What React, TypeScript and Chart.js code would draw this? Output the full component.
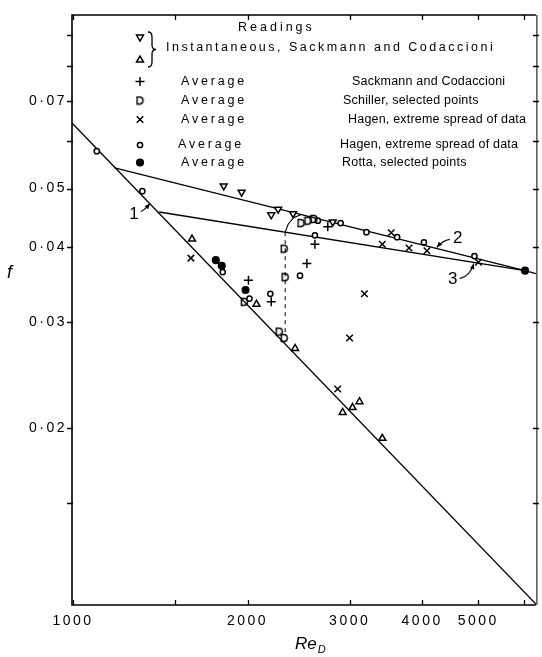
import React, { useEffect, useRef } from 'react';
import { Chart, registerables } from 'chart.js';
import { drawPoint } from 'chart.js/helpers';

Chart.register(...registerables);

// ---- axis ranges & ticks ----
const X_MIN = 996;
const X_MAX = 6284;
const Y_MIN = 0.01014;
const Y_MAX = 0.0972;

const xTickValues = [1000, 1500, 2000, 3000, 4000, 5000, 6000];
const xTickLabels = ['1000', '', '2000', '3000', '4000', '5000', ''];
const yTickValues = [0.015, 0.02, 0.03, 0.04, 0.05, 0.06, 0.07, 0.08, 0.09];
const yTickLabels = ['', '0·02', '0·03', '0·04', '0·05', '', '0·07', '', ''];

// ---- curves ----
const laminarRe = [996, 6284];
const laminarF = [0.06426, 0.01018];
const line2Re = [1180, 6019, 6284];
const line2F = [0.0541, 0.0365, 0.0361];
const line3Re = [1408, 6019];
const line3F = [0.0457, 0.0365];
const jumpRe = [2322, 2322];
const jumpF = [0.0423, 0.0287];
const bendRe = [2322, 2350, 2400, 2470];
const bendF = [0.0423, 0.0436, 0.0447, 0.0452];

// ---- readings ----
const downTriRe = [1819, 1953, 2197, 2258, 2396, 2805];
const downTriF = [0.0505, 0.0493, 0.0452, 0.0462, 0.0454, 0.044];
const upTriRe = [1604, 2072, 2415, 2917, 3034, 3119, 3415];
const upTriF = [0.0412, 0.0321, 0.0271, 0.0212, 0.0216, 0.0221, 0.0192];
const sackRe = [2007, 2197, 2531, 2613, 2750];
const sackF = [0.0352, 0.0324, 0.0375, 0.0404, 0.0432];
const schillerRe = [1975, 2268, 2313, 2313, 2322, 2473, 2542, 2603];
const schillerF = [0.0324, 0.0289, 0.0282, 0.0397, 0.0356, 0.0438, 0.0442, 0.0445];
const hagenXRe = [1597, 2860, 2999, 3181, 3415, 3538, 3797, 4077, 5002];
const hagenXF = [0.0383, 0.0232, 0.0282, 0.0334, 0.0404, 0.0422, 0.0398, 0.0394, 0.0377];
const hagenORe = [1099, 1317, 1812, 2015, 2189, 2463, 2613, 2644, 2894, 3206, 3622, 4029, 4923];
const hagenOF = [0.0577, 0.0495, 0.0363, 0.0328, 0.0334, 0.0358, 0.0418, 0.0442, 0.0438, 0.0423, 0.0415, 0.0407, 0.0386];
const rottaRe = [1763, 1805, 1984, 6019];
const rottaF = [0.038, 0.0372, 0.0339, 0.0365];

// ---- annotations (anchor on curves) ----
const noteLabels = ['1', '2', '3'];
const noteRe = [1357, 4240, 4910];
const noteF = [0.0472, 0.0399, 0.0375];

const FONT = 'Liberation Sans';

function makeDImage() {
  const c = document.createElement('canvas');
  c.width = 9;
  c.height = 10;
  const g = c.getContext('2d')!;
  g.strokeStyle = '#000';
  g.lineWidth = 1.5;
  g.beginPath();
  g.moveTo(1.5, 1.5);
  g.lineTo(4, 1.5);
  g.quadraticCurveTo(7.5, 1.5, 7.5, 5);
  g.quadraticCurveTo(7.5, 8.5, 4, 8.5);
  g.lineTo(1.5, 8.5);
  g.closePath();
  g.stroke();
  return c;
}

const pts = (xs: number[], ys: number[]) => xs.map((x, i) => ({ x, y: ys[i] }));

export default function App() {
  const ref = useRef<HTMLCanvasElement | null>(null);

  useEffect(() => {
    const canvas = ref.current;
    if (!canvas) return;
    const dImg = makeDImage();

    const styles: any = {
      down: { pointStyle: 'triangle', rotation: 180, radius: 4, fill: '#fff' },
      up: { pointStyle: 'triangle', rotation: 0, radius: 4, fill: '#fff' },
      plus: { pointStyle: 'cross', rotation: 0, radius: 4.5, fill: '#fff' },
      d: { pointStyle: dImg, rotation: 0, radius: 4, fill: '#fff' },
      x: { pointStyle: 'crossRot', rotation: 0, radius: 4.6, fill: '#fff' },
      o: { pointStyle: 'circle', rotation: 0, radius: 2.6, fill: '#fff' },
      dot: { pointStyle: 'circle', rotation: 0, radius: 3.3, fill: '#000' },
    };

    const lineDs = (xs: number[], ys: number[], dash: number[] = [], w = 1.3) => ({
      type: 'scatter' as const,
      data: pts(xs, ys),
      showLine: true,
      borderColor: '#000',
      borderWidth: w,
      borderDash: dash,
      pointRadius: 0,
      fill: false,
      order: 2,
    });
    const markDs = (xs: number[], ys: number[], s: any) => ({
      type: 'scatter' as const,
      data: pts(xs, ys),
      showLine: false,
      pointStyle: s.pointStyle,
      pointRotation: s.rotation,
      pointRadius: s.radius,
      pointBorderColor: '#000',
      pointBackgroundColor: s.fill,
      pointBorderWidth: 1.5,
      order: 1,
    });

    const framePlugin = {
      id: 'frame',
      beforeDraw(chart: any) {
        const ctx = chart.ctx;
        ctx.save();
        ctx.fillStyle = '#fff';
        ctx.fillRect(0, 0, chart.width, chart.height);
        ctx.restore();
        (ctx as any).letterSpacing = '2.5px';
      },
      afterDraw(chart: any) {
        const { ctx, chartArea: a, scales } = chart;
        const sx = scales.x;
        const sy = scales.y;
        ctx.save();
        (ctx as any).letterSpacing = '0px';
        ctx.strokeStyle = '#000';
        ctx.fillStyle = '#000';
        ctx.lineWidth = 1.6;
        ctx.beginPath();
        ctx.moveTo(a.right, a.top);
        ctx.lineTo(a.left, a.top);
        ctx.lineTo(a.left, a.bottom);
        ctx.lineTo(a.right, a.bottom);
        ctx.stroke();
        ctx.lineWidth = 1;
        ctx.beginPath();
        ctx.moveTo(a.right + 1, a.top);
        ctx.lineTo(a.right + 1, a.bottom);
        ctx.stroke();
        // ticks
        ctx.lineWidth = 1.3;
        ctx.beginPath();
        yTickValues.forEach((v) => {
          const y = Math.round(sy.getPixelForValue(v)) + 0.5;
          ctx.moveTo(a.left - 5, y);
          ctx.lineTo(a.left + 1, y);
          ctx.moveTo(a.right - 3, y);
          ctx.lineTo(a.right + 3, y);
        });
        xTickValues.forEach((v) => {
          const x = Math.round(sx.getPixelForValue(v)) + 0.5;
          ctx.moveTo(x, a.bottom);
          ctx.lineTo(x, a.bottom - 5);
          ctx.moveTo(x, a.top);
          ctx.lineTo(x, a.top + 5);
        });
        ctx.stroke();

        // axis titles
        ctx.textBaseline = 'alphabetic';
        ctx.textAlign = 'left';
        ctx.font = `italic 18px ${FONT}`;
        ctx.fillText('f', 7, 278);
        ctx.font = `italic 17px ${FONT}`;
        ctx.fillText('Re', 295, 649);
        const rw = ctx.measureText('Re').width;
        ctx.font = `italic 11px ${FONT}`;
        ctx.fillText('D', 295 + rw + 1, 653);

        // legend
        const sym = (s: any, x: number, y: number) => {
          ctx.save();
          ctx.strokeStyle = '#000';
          ctx.fillStyle = s.fill;
          ctx.lineWidth = 1.5;
          drawPoint(ctx, { pointStyle: s.pointStyle, rotation: s.rotation, radius: s.radius, borderWidth: 1.5 }, x, y);
          ctx.restore();
        };
        const txt = (t: string, x: number, y: number, ls: number) => {
          (ctx as any).letterSpacing = `${ls}px`;
          ctx.fillStyle = '#000';
          ctx.font = `12.5px ${FONT}`;
          ctx.textBaseline = 'middle';
          ctx.textAlign = 'left';
          ctx.fillText(t, x, y);
        };
        txt('Readings', 238, 28, 3);
        sym(styles.down, 140, 37);
        sym(styles.up, 140, 60);
        // brace
        ctx.lineWidth = 1.3;
        ctx.beginPath();
        ctx.moveTo(148, 32);
        ctx.quadraticCurveTo(152, 32, 152, 37);
        ctx.lineTo(152, 45);
        ctx.quadraticCurveTo(152, 49.5, 156, 49.5);
        ctx.quadraticCurveTo(152, 49.5, 152, 54);
        ctx.lineTo(152, 62);
        ctx.quadraticCurveTo(152, 67, 148, 67);
        ctx.stroke();
        txt('Instantaneous, Sackmann and Codaccioni', 166, 48, 2.5);
        const rows: [any, number, number, string, number][] = [
          [styles.plus, 81.5, 181, 'Sackmann and Codaccioni', 352],
          [styles.d, 100.5, 181, 'Schiller, selected points', 343],
          [styles.x, 119.5, 181, 'Hagen, extreme spread of data', 348],
          [styles.o, 145, 178, 'Hagen, extreme spread of data', 340],
          [styles.dot, 162.5, 181, 'Rotta, selected points', 342],
        ];
        rows.forEach(([s, y, ax, t, tx]) => {
          sym(s, 140, y);
          txt('Average', ax, y, 2.8);
          txt(t, tx, y, 0.2);
        });

        // numbered arrows
        const offs = [
          { lx: -16, ly: 11, sx: -9, sy: 8, cx: -5, cy: 6 },
          { lx: 21, ly: -9, sx: 13, sy: -8, cx: 6, cy: -7 },
          { lx: -21, ly: 16, sx: -14, sy: 15, cx: -4, cy: 13 },
        ];
        noteLabels.forEach((lab, i) => {
          const px = sx.getPixelForValue(noteRe[i]);
          const py = sy.getPixelForValue(noteF[i]);
          const o = offs[i];
          (ctx as any).letterSpacing = '0px';
          ctx.font = `17px ${FONT}`;
          ctx.textAlign = 'center';
          ctx.textBaseline = 'middle';
          ctx.fillStyle = '#000';
          ctx.fillText(lab, px + o.lx, py + o.ly);
          ctx.lineWidth = 1.1;
          ctx.beginPath();
          ctx.moveTo(px + o.sx, py + o.sy);
          ctx.quadraticCurveTo(px + o.cx, py + o.cy, px, py);
          ctx.stroke();
          const ang = Math.atan2(-o.cy, -o.cx);
          const L = 5.5, W = 2.3;
          ctx.beginPath();
          ctx.moveTo(px, py);
          ctx.lineTo(px - L * Math.cos(ang) + W * Math.sin(ang), py - L * Math.sin(ang) - W * Math.cos(ang));
          ctx.lineTo(px - L * Math.cos(ang) - W * Math.sin(ang), py - L * Math.sin(ang) + W * Math.cos(ang));
          ctx.closePath();
          ctx.fill();
        });
        ctx.restore();
      },
    };

    const chart = new Chart(canvas, {
      type: 'scatter',
      data: {
        datasets: [
          lineDs(laminarRe, laminarF),
          lineDs(line2Re, line2F),
          lineDs(line3Re, line3F),
          lineDs(jumpRe, jumpF, [4, 4], 1),
          lineDs(bendRe, bendF, [], 1.1),
          markDs(downTriRe, downTriF, styles.down),
          markDs(upTriRe, upTriF, styles.up),
          markDs(sackRe, sackF, styles.plus),
          markDs(schillerRe, schillerF, styles.d),
          markDs(hagenXRe, hagenXF, styles.x),
          markDs(hagenORe, hagenOF, styles.o),
          markDs(rottaRe, rottaF, styles.dot),
        ] as any,
      },
      options: {
        responsive: false,
        animation: false,
        events: [],
        layout: { padding: { top: 15, right: 2, left: 0, bottom: 0 } },
        plugins: { legend: { display: false }, tooltip: { enabled: false } },
        scales: {
          x: {
            type: 'logarithmic',
            min: X_MIN,
            max: X_MAX,
            grid: { display: false, drawTicks: false },
            border: { display: false },
            afterBuildTicks: (s: any) => {
              s.ticks = xTickValues.map((v) => ({ value: v }));
            },
            afterFit: (s: any) => {
              s.height = 52;
            },
            ticks: {
              autoSkip: false,
              maxRotation: 0,
              minRotation: 0,
              padding: 8,
              color: '#000',
              font: { family: FONT, size: 14 },
              callback: (v: any) => {
                const i = xTickValues.indexOf(Number(v));
                return i >= 0 ? xTickLabels[i] : '';
              },
            },
          },
          y: {
            type: 'logarithmic',
            min: Y_MIN,
            max: Y_MAX,
            grid: { display: false, drawTicks: false },
            border: { display: false },
            afterBuildTicks: (s: any) => {
              s.ticks = yTickValues.map((v) => ({ value: v }));
            },
            afterFit: (s: any) => {
              s.width = 72;
            },
            ticks: {
              autoSkip: false,
              padding: 5,
              color: '#000',
              font: { family: FONT, size: 14 },
              callback: (v: any) => {
                const i = yTickValues.indexOf(Number(v));
                return i >= 0 ? yTickLabels[i] : '';
              },
            },
          },
        },
      } as any,
      plugins: [framePlugin],
    });
    return () => chart.destroy();
  }, []);

  return (
    <div style={{ position: 'absolute', left: 0, top: 0, width: 542, height: 657, background: '#fff' }}>
      <canvas ref={ref} width={542} height={657} style={{ display: 'block', width: 542, height: 657 }} />
    </div>
  );
}
